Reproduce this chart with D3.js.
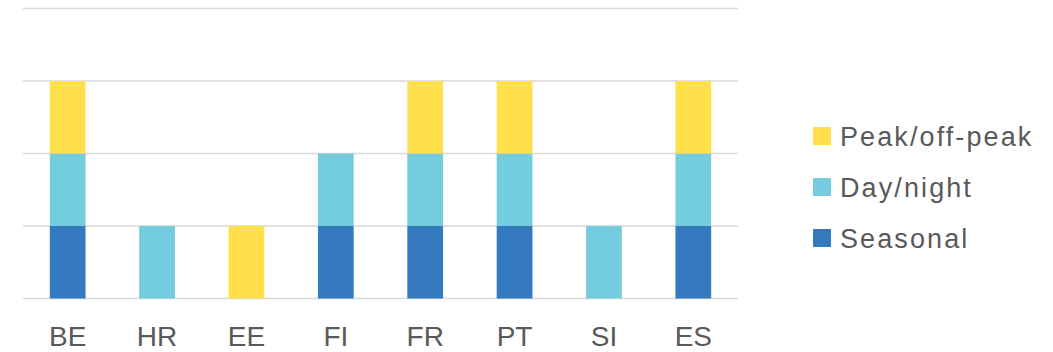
<!DOCTYPE html>
<html><head><meta charset="utf-8">
<script src="https://cdn.jsdelivr.net/npm/d3@7"></script>
<style>body{margin:0;background:#fff}svg{display:block}</style>
</head><body>
<svg id="c" width="1053" height="352"></svg>
<script>
const categories = ["BE","HR","EE","FI","FR","PT","SI","ES"];
const seasonal  = [1,0,0,1,1,1,0,1];
const dayNight  = [1,1,0,1,1,1,1,1];
const peakOff   = [1,0,1,0,1,1,0,1];
const seriesNames = ["Seasonal","Day/night","Peak/off-peak"];
const yTicks = [0,1,2,3,4];

const colors = {"Seasonal":"#3579BF","Day/night":"#73CDDF","Peak/off-peak":"#FFDF4C"};
const svg = d3.select("#c");
const x = d3.scaleBand().domain(categories).range([23,738]).paddingInner(0.6).paddingOuter(0.3);
const y = d3.scaleLinear().domain([0,4]).range([298.5,8.5]);

const rows = categories.map((c,i)=>({cat:c,"Seasonal":seasonal[i],"Day/night":dayNight[i],"Peak/off-peak":peakOff[i]}));
const stacked = d3.stack().keys(seriesNames)(rows);

svg.append("g").selectAll("line").data(yTicks).join("line")
  .attr("x1",23).attr("x2",738)
  .attr("y1",d=>y(d)).attr("y2",d=>y(d))
  .attr("stroke","#d9d9d9").attr("stroke-width",1.6);

svg.append("g").selectAll("g").data(stacked).join("g")
  .attr("fill",d=>colors[d.key])
  .selectAll("rect").data(d=>d.filter(s=>s[1]-s[0]>0)).join("rect")
  .attr("x",d=>x(d.data.cat)).attr("width",x.bandwidth())
  .attr("y",d=>y(d[1])).attr("height",d=>y(d[0])-y(d[1]));

const xa = svg.append("g").attr("transform","translate(0,298)")
  .call(d3.axisBottom(x).tickSize(0).tickPadding(0));
xa.select(".domain").remove();
xa.selectAll("text").attr("y",0).attr("dy",null).attr("transform","translate(0,48)")
  .attr("font-family","Liberation Sans, Arial, sans-serif").attr("font-size",28).attr("fill","#595959");

const legendOrder = ["Peak/off-peak","Day/night","Seasonal"];
const lg = svg.append("g").selectAll("g").data(legendOrder).join("g")
  .attr("transform",(d,i)=>`translate(813,${127+i*51})`);
lg.append("rect").attr("width",18).attr("height",18).attr("fill",d=>colors[d]);
lg.append("text").attr("x",27).attr("y",19).text(d=>d)
  .attr("font-family","Liberation Sans, Arial, sans-serif").attr("font-size",27)
  .attr("letter-spacing",2.1).attr("fill","#595959");
</script>
</body></html>
